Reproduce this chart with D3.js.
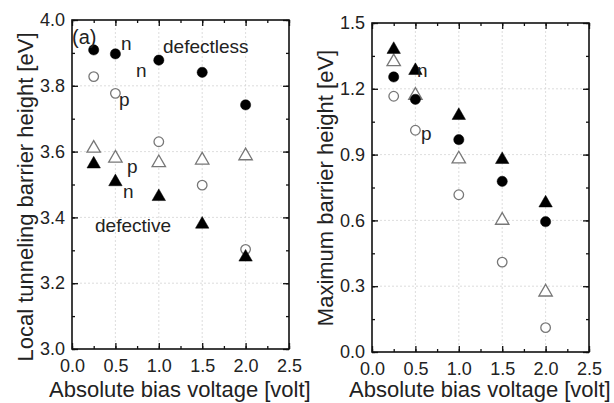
<!DOCTYPE html>
<html><head><meta charset="utf-8">
<script src="https://cdn.jsdelivr.net/npm/d3@7"></script>
<style>body{margin:0;background:#fff}svg{display:block}text{font-family:"Liberation Sans",Arial,sans-serif;fill:#222}</style>
</head><body><svg id="c" width="614" height="403"></svg>
<script>
const biasV = [0.25, 0.5, 1.0, 1.5, 2.0];
// Left panel: local tunneling barrier height
const ltbDefectlessN = [3.909, 3.897, 3.878, 3.841, 3.742];
const ltbDefectlessP = [3.828, 3.777, 3.630, 3.498, 3.303];
const ltbDefectiveP = [3.610, 3.580, 3.566, 3.574, 3.587];
const ltbDefectiveN = [3.562, 3.508, 3.463, 3.379, 3.279];
// Right panel: maximum barrier height
const mbhDefectiveN = [1.379, 1.283, 1.078, 0.877, 0.679];
const mbhDefectiveP = [1.323, 1.170, 0.880, 0.600, 0.273];
const mbhDefectlessN = [1.254, 1.152, 0.968, 0.778, 0.594];
const mbhDefectlessP = [1.166, 1.011, 0.717, 0.410, 0.111];
const xTicks = [0.0, 0.5, 1.0, 1.5, 2.0, 2.5];
const leftYTicks = [3.0, 3.2, 3.4, 3.6, 3.8, 4.0];
const rightYTicks = [0.0, 0.3, 0.6, 0.9, 1.2, 1.5];

const svg = d3.select("#c");

function panel(opt){
  const x = d3.scaleLinear().domain([0,2.5]).range([opt.x0, opt.x1]);
  const y = d3.scaleLinear().domain(opt.ydom).range([opt.y1, opt.y0]);
  const g = svg.append("g");
  // grid
  g.selectAll(".gx").data(xTicks.slice(1,-1)).join("line")
    .attr("x1",d=>x(d)).attr("x2",d=>x(d)).attr("y1",opt.y0).attr("y2",opt.y1)
    .attr("stroke","#d4d4d4").attr("stroke-width",0.8).attr("stroke-dasharray","2,2");
  g.selectAll(".gy").data(opt.yticks.slice(1,-1)).join("line")
    .attr("y1",d=>y(d)).attr("y2",d=>y(d)).attr("x1",opt.x0).attr("x2",opt.x1)
    .attr("stroke","#d4d4d4").attr("stroke-width",0.8).attr("stroke-dasharray","2,2");
  // axes with inward ticks
  const minorX = d3.range(0,2.51,0.25);
  const minorY = d3.range(opt.ydom[0], opt.ydom[1]+1e-9, opt.minor);
  const axB = d3.axisBottom(x).tickValues(xTicks).tickFormat(d3.format(".1f")).tickSizeInner(-6).tickSizeOuter(0).tickPadding(10);
  const axL = d3.axisLeft(y).tickValues(opt.yticks).tickFormat(d3.format(".1f")).tickSizeInner(-6).tickSizeOuter(0).tickPadding(7);
  const gb = g.append("g").attr("transform",`translate(0,${opt.y1})`).call(axB);
  const gl = g.append("g").attr("transform",`translate(${opt.x0},0)`).call(axL);
  const gt = g.append("g").attr("transform",`translate(0,${opt.y0})`).call(d3.axisTop(x).tickValues(xTicks).tickSizeInner(-6).tickSizeOuter(0).tickFormat(""));
  const gr = g.append("g").attr("transform",`translate(${opt.x1},0)`).call(d3.axisRight(y).tickValues(opt.yticks).tickSizeInner(-6).tickSizeOuter(0).tickFormat(""));
  // minor ticks
  const mb = g.append("g").attr("transform",`translate(0,${opt.y1})`).call(d3.axisBottom(x).tickValues(minorX).tickSizeInner(-3).tickSizeOuter(0).tickFormat(""));
  const mt = g.append("g").attr("transform",`translate(0,${opt.y0})`).call(d3.axisTop(x).tickValues(minorX).tickSizeInner(-3).tickSizeOuter(0).tickFormat(""));
  const ml = g.append("g").attr("transform",`translate(${opt.x0},0)`).call(d3.axisLeft(y).tickValues(minorY).tickSizeInner(-3).tickSizeOuter(0).tickFormat(""));
  const mr = g.append("g").attr("transform",`translate(${opt.x1},0)`).call(d3.axisRight(y).tickValues(minorY).tickSizeInner(-3).tickSizeOuter(0).tickFormat(""));
  [gb,gl,gt,gr,mb,mt,ml,mr].forEach(a=>{a.select(".domain").remove(); a.selectAll("line").attr("stroke","#111").attr("stroke-width",1.3);});
  [gb,gl].forEach(a=>a.selectAll("text").attr("font-size",18).attr("font-family","Liberation Sans, Arial, sans-serif").attr("fill","#222"));
  // frame
  g.append("rect").attr("x",opt.x0).attr("y",opt.y0).attr("width",opt.x1-opt.x0).attr("height",opt.y1-opt.y0)
    .attr("fill","none").attr("stroke","#111").attr("stroke-width",1.6);
  // axis titles
  g.append("text").attr("x",opt.x0-23).attr("y",397).attr("text-anchor","start").attr("font-size",22).text("Absolute bias voltage [volt]");
  g.append("text").attr("transform",`translate(${opt.x0-39},${opt.ymid}) rotate(-90)`).attr("text-anchor","middle").attr("font-size",22).text(opt.ytitle);
  // markers
  const tri = d3.symbol().type(d3.symbolTriangle).size(78);
  opt.series.forEach(s=>{
    const pts = biasV.map((v,i)=>[x(v), y(s.vals[i])]);
    const sel = g.append("g").selectAll("path").data(pts).join("path")
      .attr("transform",d=>`translate(${d[0]},${d[1]})`);
    if(s.shape==="circle"){
      sel.attr("d", d3.symbol().type(d3.symbolCircle).size(s.filled?82:72)());
    } else {
      sel.attr("d", tri());
    }
    if(s.filled) sel.attr("fill","#000").attr("stroke","#000").attr("stroke-width",0.5);
    else sel.attr("fill","#fff").attr("stroke","#777").attr("stroke-width",1.3);
  });
  opt.labels.forEach(l=>{
    g.append("text").attr("x",l[0]).attr("y",l[1]).attr("font-size",l[3]||19).text(l[2]);
  });
  return g;
}

panel({x0:72,x1:289,y0:20,y1:349,ymid:197,ydom:[3.0,4.0],yticks:leftYTicks,minor:0.1,
  ytitle:"Local tunneling barrier height [eV]",
  series:[
    {vals:ltbDefectiveP,shape:"tri",filled:false},
    {vals:ltbDefectlessP,shape:"circle",filled:false},
    {vals:ltbDefectlessN,shape:"circle",filled:true},
    {vals:ltbDefectiveN,shape:"tri",filled:true}],
  labels:[[72,44,"(a)",20],[121,50,"n"],[163,53,"defectless"],[136,77,"n"],[119,106,"p"],[127,173,"p"],[123,198,"n"],[95,232,"defective"]]
});
panel({x0:372,x1:589,y0:23,y1:352,ymid:188,ydom:[0.0,1.5],yticks:rightYTicks,minor:0.15,
  ytitle:"Maximum barrier height [eV]",
  series:[
    {vals:mbhDefectiveP,shape:"tri",filled:false},
    {vals:mbhDefectlessP,shape:"circle",filled:false},
    {vals:mbhDefectlessN,shape:"circle",filled:true},
    {vals:mbhDefectiveN,shape:"tri",filled:true}],
  labels:[[417,77,"n"],[421,140,"p"]]
});
</script></body></html>
